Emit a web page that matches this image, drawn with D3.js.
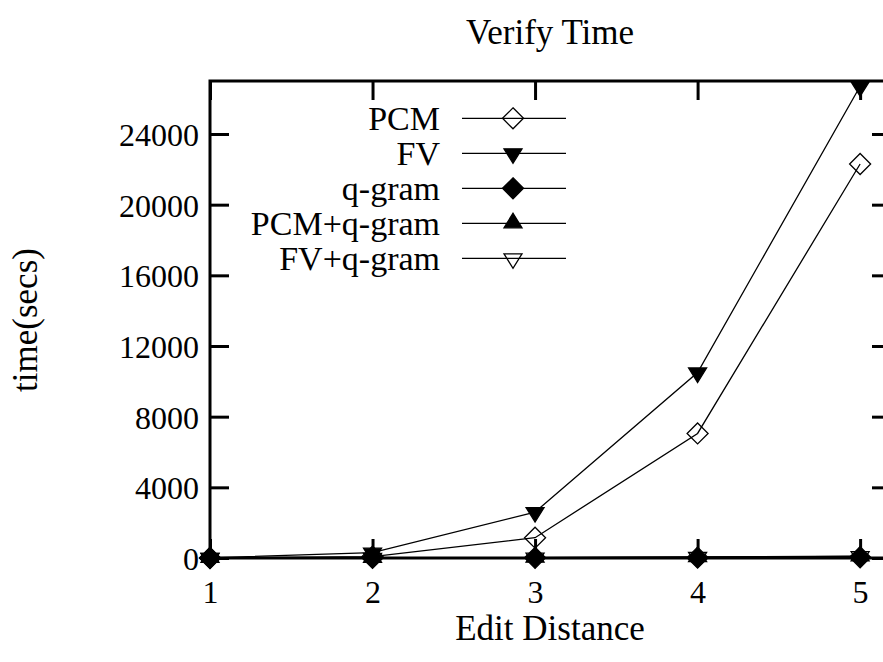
<!DOCTYPE html>
<html>
<head>
<meta charset="utf-8">
<script src="https://cdn.jsdelivr.net/npm/d3@7"></script>
<style>
  html, body { margin: 0; padding: 0; background: #fff; }
  svg { display: block; font-family: "Liberation Serif", "Times New Roman", serif; }
</style>
</head>
<body>
<svg id="chart" width="883" height="662"></svg>
<script>
// Edit distance thresholds on the x axis
const editDistance = [1, 2, 3, 4, 5];

// Verification time in seconds for each method
const pcm        = [5, 80, 1150, 7050, 22300];
const fv         = [10, 300, 2600, 10500, 26700];
const qgram      = [2, 5, 10, 20, 40];
const pcmQgram   = [3, 8, 20, 50, 90];
const fvQgram    = [3, 10, 25, 60, 110];

const seriesNames = ["PCM", "FV", "q-gram", "PCM+q-gram", "FV+q-gram"];
const seriesValues = [pcm, fv, qgram, pcmQgram, fvQgram];
const seriesMarkers = ["diamondOpen", "triDownFilled", "diamondFilled", "triUpFilled", "triDownOpen"];

const yTicks = [0, 4000, 8000, 12000, 16000, 20000, 24000];
const xTicks = [1, 2, 3, 4, 5];

(function draw() {
const svg = d3.select("#chart");
const FONT = 35;        // title and axis titles
const KEY_FONT = 34;    // key entries
const TICK_FONT = 32;   // tick labels
const FAMILY = '"Liberation Serif", "Times New Roman", serif';

const plotLeft = 210, plotRight = 891, plotTop = 81, plotBottom = 558;

const x = d3.scaleLinear().domain([1, 5.19]).range([plotLeft, plotRight]);
const y = d3.scaleLinear().domain([0, 27000]).range([plotBottom, plotTop]);

// marker shapes
function markerPath(kind) {
  if (kind.startsWith("diamond")) return "M0,-10.5L10.5,0L0,10.5L-10.5,0Z";
  if (kind.startsWith("triDown")) return "M-9,-4.5L9,-4.5L0,10Z";
  if (kind.startsWith("triUp")) return "M-9,4.5L9,4.5L0,-10Z";
  return "";
}
function markerFill(kind) { return kind.endsWith("Filled") ? "#000" : "none"; }

function addText(g, str, tx, ty, anchor, size) {
  return g.append("text")
    .attr("x", tx).attr("y", ty)
    .attr("text-anchor", anchor || "middle")
    .attr("font-size", size || FONT)
    .attr("fill", "#000")
    .text(str);
}

// axes with inward ticks, mirrored on the opposite sides
const tickLen = 19;
const gL = svg.append("g").attr("transform", `translate(${plotLeft},0)`)
  .call(d3.axisLeft(y).tickValues(yTicks).tickSizeInner(-tickLen).tickSizeOuter(0).tickFormat(d3.format("d")));
const gR = svg.append("g").attr("transform", `translate(${plotRight},0)`)
  .call(d3.axisRight(y).tickValues(yTicks).tickSizeInner(-tickLen).tickSizeOuter(0).tickFormat(""));
const gB = svg.append("g").attr("transform", `translate(0,${plotBottom})`)
  .call(d3.axisBottom(x).tickValues(xTicks).tickSizeInner(-tickLen).tickSizeOuter(0).tickFormat(d3.format("d")));
const gT = svg.append("g").attr("transform", `translate(0,${plotTop})`)
  .call(d3.axisTop(x).tickValues(xTicks).tickSizeInner(-tickLen).tickSizeOuter(0).tickFormat(""));

[gL, gR, gB, gT].forEach(g => {
  g.attr("font-family", FAMILY).attr("font-size", TICK_FONT);
  g.select(".domain").remove();
  g.selectAll(".tick line").attr("stroke", "#000").attr("stroke-width", 3);
  g.selectAll(".tick text").attr("fill", "#000");
});
gL.selectAll(".tick text").attr("x", -11).attr("dy", "0.36em");
gB.selectAll(".tick text").attr("y", 45).attr("dy", 0);

// series lines and markers
const line = d3.line().x((d, i) => x(editDistance[i])).y(d => y(d));
seriesValues.forEach((vals, si) => {
  svg.append("path")
    .attr("d", line(vals))
    .attr("fill", "none").attr("stroke", "#000").attr("stroke-width", 1.3);
  svg.append("g").selectAll("path")
    .data(vals).join("path")
    .attr("transform", (d, i) => `translate(${x(editDistance[i])},${y(d)})`)
    .attr("d", markerPath(seriesMarkers[si]))
    .attr("fill", markerFill(seriesMarkers[si]))
    .attr("stroke", "#000").attr("stroke-width", 1.3);
});

// plot border
svg.append("rect")
  .attr("x", plotLeft).attr("y", plotTop)
  .attr("width", plotRight - plotLeft).attr("height", plotBottom - plotTop)
  .attr("fill", "none").attr("stroke", "#000").attr("stroke-width", 3);

// key
const legend = svg.append("g");
const legTextX = 440, legLineX0 = 462, legLineX1 = 566, legMarkX = 513;
const legY0 = 118.3, legStep = 35;
seriesNames.forEach((name, i) => {
  const ly = legY0 + i * legStep;
  addText(legend, name, legTextX, ly + 11.5, "end", KEY_FONT);
  legend.append("line")
    .attr("x1", legLineX0).attr("x2", legLineX1).attr("y1", ly).attr("y2", ly)
    .attr("stroke", "#000").attr("stroke-width", 1.3);
  legend.append("path")
    .attr("transform", `translate(${legMarkX},${ly})`)
    .attr("d", markerPath(seriesMarkers[i]))
    .attr("fill", markerFill(seriesMarkers[i]))
    .attr("stroke", "#000").attr("stroke-width", 1.3);
});

// titles
addText(svg, "Verify Time", 550, 44, "middle");
addText(svg, "Edit Distance", 550, 640, "middle");
svg.append("text")
  .attr("x", 0).attr("y", 0)
  .attr("transform", "translate(37,320) rotate(-90)")
  .attr("text-anchor", "middle")
  .attr("font-size", FONT)
  .attr("fill", "#000")
  .text("time(secs)");
})();
</script>
</body>
</html>
